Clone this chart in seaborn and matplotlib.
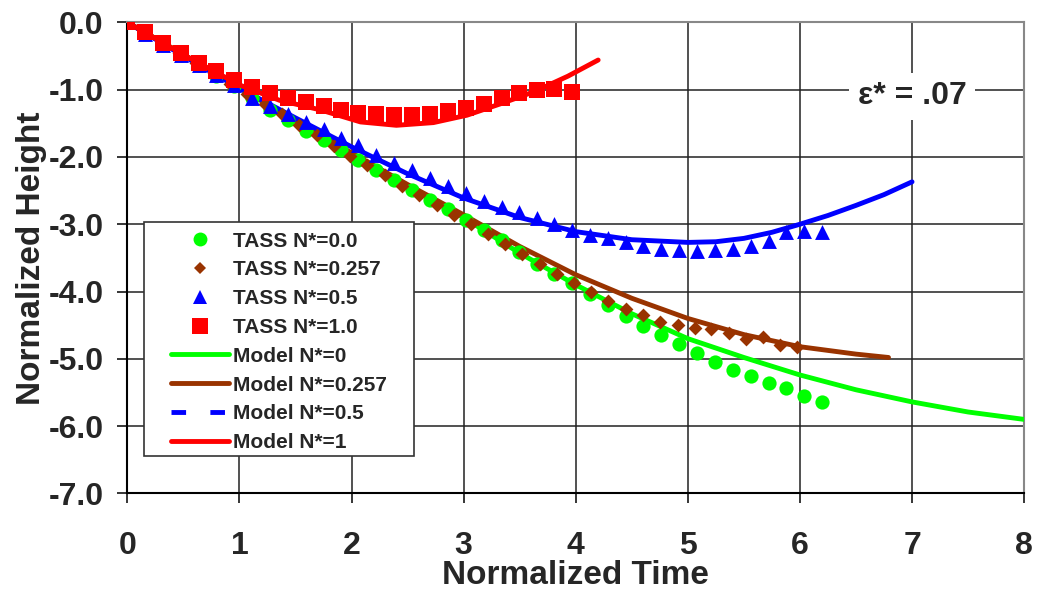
import matplotlib
matplotlib.use("Agg")
import matplotlib.pyplot as plt
from matplotlib.lines import Line2D
from matplotlib.patches import Rectangle
import pandas as pd
import seaborn as sns

# TASS data
t_green = [0.00, 0.16, 0.32, 0.48, 0.64, 0.79, 0.95, 1.11, 1.27, 1.43, 1.59, 1.75, 1.91, 2.06,
           2.22, 2.38, 2.54, 2.70, 2.86, 3.02, 3.18, 3.34, 3.49, 3.65, 3.81, 3.97, 4.13, 4.29,
           4.45, 4.60, 4.76, 4.92, 5.08, 5.24, 5.40, 5.56, 5.72, 5.88, 6.04, 6.20]
h_green = [0.00, -0.16, -0.32, -0.48, -0.63, -0.79, -0.95, -1.13, -1.30, -1.45, -1.62, -1.75,
           -1.90, -2.05, -2.19, -2.34, -2.49, -2.64, -2.78, -2.94, -3.09, -3.24, -3.42, -3.59,
           -3.74, -3.88, -4.03, -4.20, -4.36, -4.51, -4.65, -4.78, -4.91, -5.04, -5.16, -5.26,
           -5.36, -5.44, -5.55, -5.64]

t_brown = [0.00, 0.15, 0.31, 0.46, 0.61, 0.77, 0.92, 1.07, 1.23, 1.38, 1.53, 1.69, 1.84, 1.99,
           2.14, 2.30, 2.45, 2.60, 2.76, 2.91, 3.07, 3.22, 3.37, 3.52, 3.68, 3.83, 3.98, 4.14,
           4.29, 4.45, 4.60, 4.75, 4.91, 5.06, 5.21, 5.37, 5.52, 5.67, 5.82, 5.97]
h_brown = [0.00, -0.15, -0.30, -0.45, -0.60, -0.75, -0.91, -1.06, -1.21, -1.36, -1.52, -1.68,
           -1.84, -1.99, -2.12, -2.27, -2.43, -2.57, -2.72, -2.86, -2.99, -3.14, -3.29, -3.44,
           -3.59, -3.74, -3.87, -4.01, -4.14, -4.26, -4.35, -4.45, -4.50, -4.54, -4.56, -4.61,
           -4.71, -4.67, -4.79, -4.83]

t_blue = t_green
h_blue = [0.00, -0.17, -0.33, -0.49, -0.64, -0.78, -0.93, -1.12, -1.24, -1.36, -1.48, -1.59,
          -1.72, -1.83, -1.97, -2.09, -2.20, -2.32, -2.43, -2.54, -2.65, -2.74, -2.82, -2.90,
          -3.00, -3.09, -3.16, -3.21, -3.27, -3.32, -3.37, -3.39, -3.40, -3.39, -3.37, -3.33,
          -3.25, -3.11, -3.10, -3.12]

t_red = t_green[:26]
h_red = [0.00, -0.15, -0.31, -0.46, -0.60, -0.73, -0.85, -0.96, -1.05, -1.13, -1.19, -1.24,
         -1.30, -1.34, -1.36, -1.37, -1.37, -1.36, -1.32, -1.28, -1.22, -1.12, -1.05, -1.00,
         -0.99, -1.03]

# Model curves (sampled from chart)
mt_green = [0, 0.5, 1, 1.5, 2, 2.5, 3, 3.5, 4, 4.5, 5, 5.5, 6, 6.5, 7, 7.5, 8]
mh_green = [0, -0.48, -0.97, -1.47, -1.96, -2.44, -2.90, -3.43, -3.90, -4.33, -4.70, -4.98,
            -5.24, -5.46, -5.64, -5.79, -5.90]
mt_brown = [0, 0.5, 1, 1.5, 2, 2.5, 3, 3.5, 4, 4.5, 5, 5.5, 6, 6.5, 6.79]
mh_brown = [0, -0.48, -0.97, -1.46, -1.94, -2.41, -2.86, -3.33, -3.75, -4.10, -4.40, -4.64,
            -4.82, -4.93, -4.98]
mt_blue = [0, 0.5, 1, 1.5, 2, 2.5, 3, 3.5, 4, 4.5, 5, 5.25, 5.5, 5.75, 6.0, 6.25, 6.5, 6.75, 7.0]
mh_blue = [0, -0.50, -0.98, -1.42, -1.85, -2.25, -2.61, -2.90, -3.11, -3.23, -3.27, -3.26,
           -3.21, -3.12, -3.00, -2.87, -2.72, -2.56, -2.37]
mt_red = [0, 0.5, 1.0, 1.36, 1.72, 2.08, 2.4, 2.73, 3.03, 3.33, 3.63, 3.93, 4.2]
mh_red = [0, -0.48, -0.93, -1.16, -1.30, -1.48, -1.53, -1.49, -1.38, -1.21, -1.03, -0.80, -0.56]

GREEN, BROWN, BLUE, RED = "#00FF00", "#993300", "#0000FF", "#FF0000"

sns.set_theme(style="white")
plt.rcParams["font.family"] = ["Liberation Sans", "DejaVu Sans"]
plt.rcParams["font.weight"] = "bold"

fig = plt.figure(figsize=(10.37, 5.91), dpi=100)
ax = fig.add_axes([0.1228, 0.1651, 0.8648, 0.7971])

# model lines
for t, h, c in [(mt_green, mh_green, GREEN), (mt_brown, mh_brown, BROWN),
                (mt_blue, mh_blue, BLUE), (mt_red, mh_red, RED)]:
    df = pd.DataFrame({"t": t, "h": h})
    sns.lineplot(data=df, x="t", y="h", sort=False, estimator=None, color=c, lw=3.5,
                 ax=ax, zorder=3, solid_capstyle="round")

# TASS markers
for t, h, c, m, s in [(t_green, h_green, GREEN, "o", 105), (t_brown, h_brown, BROWN, "D", 50),
                      (t_blue, h_blue, BLUE, "^", 115), (t_red, h_red, RED, "s", 135)]:
    df = pd.DataFrame({"t": t, "h": h})
    sns.scatterplot(data=df, x="t", y="h", color=c, marker=m, s=s, linewidth=0,
                    ax=ax, zorder=4)

ax.set_xlim(0, 8)
ax.set_ylim(-7, 0)
ax.set_xticks(range(0, 9))
ax.set_yticks([-7, -6, -5, -4, -3, -2, -1, 0])
ax.set_yticklabels([f"{v:.1f}" for v in [-7, -6, -5, -4, -3, -2, -1, 0]])
ax.grid(True, color="#222222", lw=1.1)
ax.set_axisbelow(True)
ax.tick_params(axis="both", direction="out", length=7, width=1.1, color="black",
               labelsize=23, bottom=True, left=True)
ax.tick_params(axis="x", pad=20)
ax.tick_params(axis="y", pad=10)
for lab in ax.get_xticklabels() + ax.get_yticklabels():
    lab.set_fontweight("bold")
for side in ["top", "right"]:
    ax.spines[side].set_color("#888888")
    ax.spines[side].set_linewidth(1.5)
for side in ["left", "bottom"]:
    ax.spines[side].set_color("black")
    ax.spines[side].set_linewidth(1.5)

ax.set_xlabel("Normalized Time", fontsize=24, fontweight="bold", labelpad=-1)
ax.set_ylabel("Normalized Height", fontsize=24, fontweight="bold", labelpad=1)

ax.text(7.0, -1.1, "\u03b5* = .07", fontsize=23, fontweight="bold", ha="center", va="center",
        zorder=6, bbox=dict(facecolor="white", edgecolor="none", pad=6))

# legend box + entries
ax.add_patch(Rectangle((0.0186, 0.0784), 0.301, 0.4976, transform=ax.transAxes,
                       facecolor="white", edgecolor="#333333", lw=1.2, zorder=7))
handles = [
    Line2D([], [], ls="none", marker="o", color=GREEN, ms=10, mew=0),
    Line2D([], [], ls="none", marker="D", color=BROWN, ms=6.5, mew=0),
    Line2D([], [], ls="none", marker="^", color=BLUE, ms=10.5, mew=0),
    Line2D([], [], ls="none", marker="s", color=RED, ms=11, mew=0),
    Line2D([], [], color=GREEN, lw=3.5),
    Line2D([], [], color=BROWN, lw=3.5),
    Line2D([], [], color=BLUE, lw=3.5, ls=(0, (3, 5))),
    Line2D([], [], color=RED, lw=3.5),
]
labels = ["TASS N*=0.0", "TASS N*=0.257", "TASS N*=0.5", "TASS N*=1.0",
          "Model N*=0", "Model N*=0.257", "Model N*=0.5", "Model N*=1"]
leg = ax.legend(handles, labels, loc="upper left", bbox_to_anchor=(0.0373, 0.578),
                frameon=False, borderpad=0, handlelength=2.75, handletextpad=0.2,
                labelspacing=0.47, prop={"size": 15, "weight": "bold"})
leg.set_zorder(8)

fig.savefig("out.png", dpi=100)
